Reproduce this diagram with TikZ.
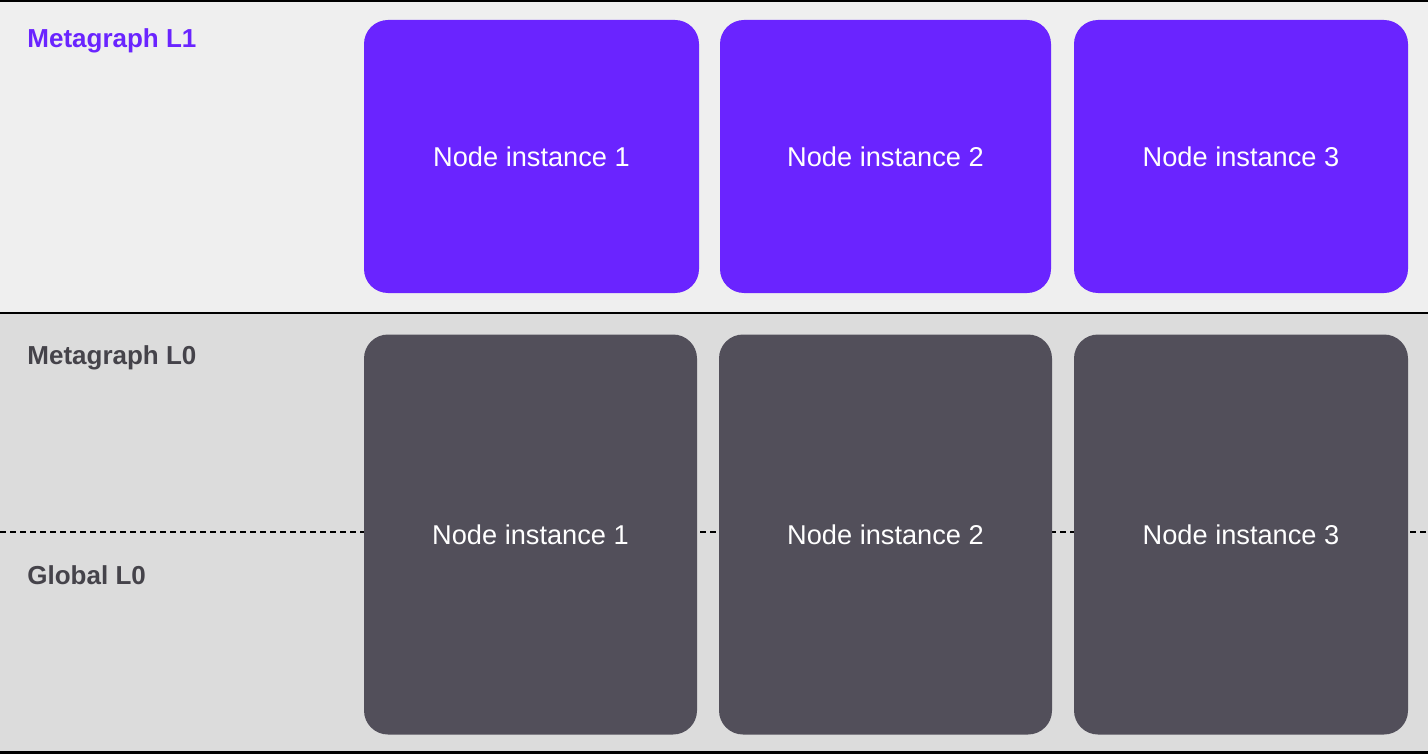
\documentclass[tikz,border=0pt]{standalone}
\usepackage{fontspec}
\setmainfont{Liberation Sans}
\usepackage{tikz}
\definecolor{mgpurple}{HTML}{6A24FF}
\definecolor{mgdark}{HTML}{524F5A}
\definecolor{mglight}{HTML}{EFEFEF}
\definecolor{mgmid}{HTML}{DCDCDC}
\definecolor{mglabel}{HTML}{45434A}
\tikzset{
	layerlabel/.style={anchor=base west, inner sep=0pt, font=\bfseries\fontsize{13}{15}\selectfont},
	instbox/.style={rounded corners=12pt, minimum width=167.5pt, text=white, inner sep=0pt,
		font=\fontsize{13.6}{16}\selectfont},
	l1box/.style={instbox, fill=mgpurple, minimum height=136.5pt},
	l0box/.style={instbox, fill=mgdark, minimum height=200pt}
}
\begin{document}
\begin{tikzpicture}[x=0.5pt, y=-0.5pt]
				\useasboundingbox (0,0) rectangle (1428,754);
				\draw[draw=none, fill=mglight] (0,0) rectangle (1428,313);
				\draw[draw=none, fill=mgmid] (0,313) rectangle (1428,754);
				\draw[line width=1.3pt] (0,0.6) -- (1428,0.6);
				\draw[line width=1pt] (0,313) -- (1428,313);
				\draw[line width=1.5pt] (0,752.5) -- (1428,752.5);
				\draw[line width=0.6pt, dash pattern=on 3pt off 2pt] (0,532) -- (1428,532);
				\node[layerlabel, text=mgpurple] (lblone) at (27,48) {Metagraph L1};
				\node[layerlabel, text=mglabel] (lblzero) at (27,364) {Metagraph L0};
				\node[layerlabel, text=mglabel] (lblglobal) at (27,584) {Global L0};
				\foreach \n/\x/\w in {1/531.5/335, 2/885.5/331, 3/1241/334} {
					\node[l1box, minimum width=\w*0.5pt] (top\n) at (\x,156.5) {Node instance \n};
				}
				\foreach \n/\x/\w in {1/530.5/333, 2/885.5/333, 3/1241/334} {
					\node[l0box, minimum width=\w*0.5pt] (bot\n) at (\x,534.5) {Node instance \n};
				}
			\end{tikzpicture}
\end{document}
